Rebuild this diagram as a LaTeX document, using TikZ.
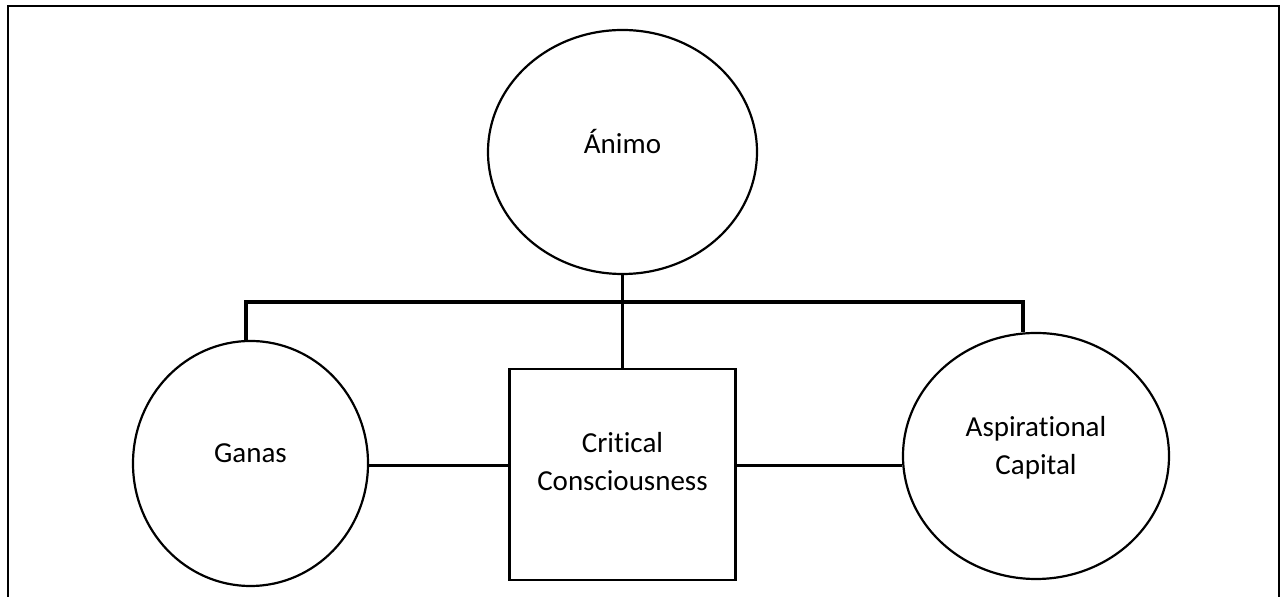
\documentclass[tikz,border=0pt]{standalone}
\usepackage{fontspec}
\setmainfont{Carlito}[Ligatures=NoCommon]
\usetikzlibrary{positioning, shapes.geometric}

\tikzset{
    frame/.style={line width=1.2pt},
    orb/.style={ellipse, draw, line width=1.1pt, inner sep=0pt},
    panel/.style={rectangle, draw, line width=1.2pt, inner sep=0pt},
    link/.style={line width=1.8pt},
    words/.style={align=center, font=\fontsize{14.5}{18.8}\selectfont},
}

\begin{document}
\begin{tikzpicture}[x=0.5pt, y=-0.5pt]
    \useasboundingbox (0,0) rectangle (1281,597);
    \draw[frame] (8,6) rectangle (1279,660);

    % shapes
    \node[orb, minimum width=134.5pt, minimum height=122pt] (animo) at (622.5,152) {};
    \node[panel, minimum width=113pt, minimum height=105.5pt, below=46.5pt of animo] (box) {};
    \node[orb, minimum width=117.5pt, minimum height=122.5pt] (ganas) at (250.5,463.5) {};
    \node[orb, minimum width=133pt, minimum height=123pt] (aspir) at (1036,456) {};

    % texts
    \node[words] (animoText) at ([yshift=5pt]animo.center) {Ánimo};
    \node[words] (boxText) at ([yshift=6.5pt]box.center) {Critical\\Consciousness};
    \node[words] (ganasText) at ([yshift=5pt]ganas.center) {Ganas};
    \node[words] (aspirText) at ([yshift=4pt]aspir.center) {Aspirational\\Capital};

    % connectors
    \coordinate (hub) at (624,302);
    \draw[link] (animo.south) -- (box.north);
    \draw[link] (ganas.92) |- (hub) -| (aspir.96);
    \draw[link] (ganas.-1) -- (ganas.-1 -| box.west);
    \draw[link] (aspir.184 -| box.east) -- (aspir.184);
\end{tikzpicture}
\end{document}
